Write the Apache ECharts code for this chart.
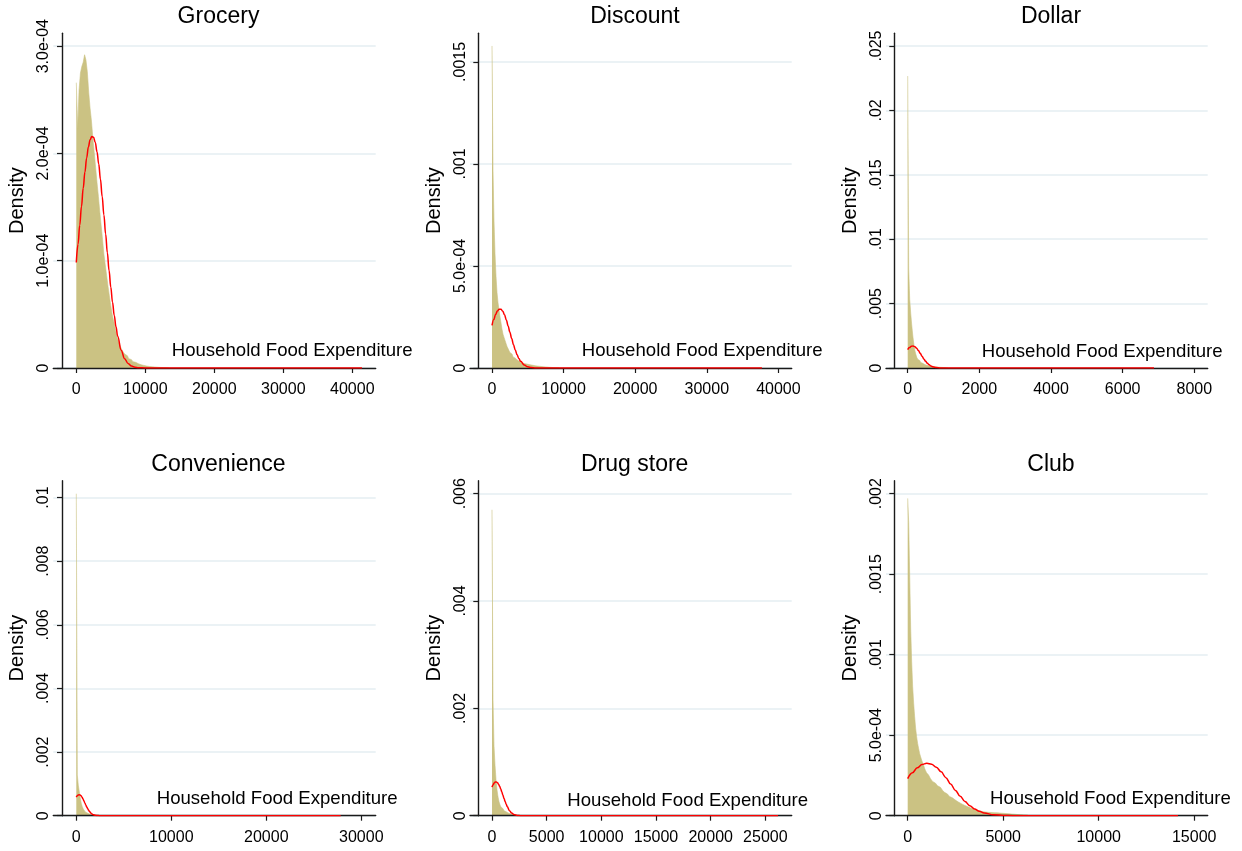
<!DOCTYPE html>
<html><head><meta charset="utf-8">
<script src="https://cdn.jsdelivr.net/npm/echarts@6/dist/echarts.min.js"></script>
<style>html,body{margin:0;padding:0;background:#fff}#c{width:1242px;height:851px}</style>
</head><body><div id="c"></div>
<script>
// ---------------- DATA ----------------
const panelTitles = ['Grocery', 'Discount', 'Dollar', 'Convenience', 'Drug store', 'Club'];
const xAxisTitle = 'Household Food Expenditure';
const yAxisTitle = 'Density';

// histogram bin widths (expenditure units) and bin densities
const groceryBinWidth = 200;
const groceryDensity = [2.66e-4, 2.23e-4, 2.59e-4, 2.75e-4, 2.81e-4, 2.85e-4, 2.92e-4, 2.87e-4, 2.76e-4, 2.57e-4,
  2.42e-4, 2.30e-4, 2.14e-4, 2.01e-4, 1.87e-4, 1.73e-4, 1.60e-4, 1.46e-4, 1.33e-4, 1.20e-4,
  1.06e-4, 0.96e-4, 0.86e-4, 0.76e-4, 0.67e-4, 0.58e-4, 0.50e-4, 0.44e-4, 0.38e-4, 0.32e-4,
  0.27e-4, 0.23e-4, 0.20e-4, 0.17e-4, 0.15e-4, 0.13e-4, 0.115e-4, 0.10e-4, 0.087e-4, 0.078e-4,
  0.068e-4, 0.059e-4, 0.053e-4, 0.047e-4, 0.040e-4, 0.035e-4, 0.030e-4, 0.027e-4, 0.024e-4, 0.021e-4,
  0.018e-4, 0.016e-4, 0.014e-4, 0.012e-4, 0.011e-4, 0.010e-4, 0.009e-4, 0.008e-4, 0.007e-4, 0.006e-4,
  0.005e-4, 0.0045e-4, 0.004e-4, 0.0035e-4, 0.003e-4, 0.0025e-4, 0.002e-4];

const discountBinWidth = 140;
const discountDensity = [1.578e-3, 0.97e-3, 0.72e-3, 0.56e-3, 0.45e-3, 0.37e-3, 0.32e-3, 0.285e-3, 0.25e-3, 0.22e-3,
  0.19e-3, 0.165e-3, 0.15e-3, 0.135e-3, 0.12e-3, 0.105e-3, 0.095e-3, 0.085e-3, 0.075e-3, 0.068e-3,
  0.060e-3, 0.054e-3, 0.049e-3, 0.044e-3, 0.040e-3, 0.036e-3, 0.033e-3, 0.030e-3, 0.028e-3, 0.026e-3,
  0.024e-3, 0.022e-3, 0.021e-3, 0.020e-3, 0.019e-3, 0.018e-3, 0.017e-3, 0.016e-3, 0.015e-3, 0.014e-3,
  0.013e-3, 0.012e-3, 0.011e-3, 0.010e-3, 0.0095e-3, 0.009e-3, 0.0085e-3, 0.008e-3, 0.0075e-3, 0.007e-3,
  0.0065e-3, 0.006e-3, 0.0055e-3, 0.005e-3, 0.0045e-3, 0.004e-3, 0.0035e-3, 0.003e-3, 0.0028e-3, 0.0025e-3,
  0.0022e-3, 0.002e-3, 0.0018e-3, 0.0016e-3, 0.0014e-3, 0.0012e-3, 0.001e-3];

const dollarBinWidth = 28;
const dollarDensity = [0.02267, 0.00769, 0.00533, 0.00424, 0.00334, 0.00256, 0.00192, 0.0014, 0.00109, 0.00083,
  0.00067, 0.00058, 0.00048, 0.00042, 0.00036, 0.00031, 0.00027, 0.00024, 0.00021, 0.00019,
  0.00017, 0.00015, 0.00014, 0.00013, 0.00012, 0.00011, 0.0001, 0.00009, 0.00008, 0.00007,
  0.00006, 0.000055, 0.00005, 0.000045, 0.00004, 0.000035, 0.00003, 0.000025, 0.00002, 0.000015];

const convenienceBinWidth = 105;
const convenienceDensity = [0.01012, 0.00128, 0.00096, 0.00075, 0.00055, 0.00039, 0.00028, 0.00021, 0.00016, 0.00012,
  0.00009, 0.00007, 0.000055, 0.000045, 0.000035, 0.000028, 0.000022, 0.000018, 0.000014, 0.000011,
  0.000009, 0.000007, 0.000005, 0.000004, 0.000003];

const drugBinWidth = 92;
const drugDensity = [0.0057, 0.00217, 0.0013, 0.00094, 0.00067, 0.00048, 0.00035, 0.00026, 0.0002, 0.00016,
  0.00013, 0.00011, 0.00009, 0.000075, 0.000062, 0.000052, 0.000044, 0.000037, 0.000031, 0.000026,
  0.000022, 0.000018, 0.000015, 0.000012, 0.00001, 0.000008, 0.000006, 0.000005, 0.000004, 0.000003];

const clubBinWidth = 52;
const clubDensity = [1.971e-3, 1.82e-3, 1.495e-3, 1.164e-3, 0.957e-3, 0.801e-3, 0.698e-3, 0.615e-3, 0.542e-3, 0.49e-3,
  0.449e-3, 0.418e-3, 0.387e-3, 0.366e-3, 0.346e-3, 0.329e-3, 0.315e-3, 0.294e-3, 0.28e-3, 0.267e-3,
  0.259e-3, 0.253e-3, 0.242e-3, 0.23e-3, 0.22e-3, 0.213e-3, 0.207e-3, 0.202e-3, 0.197e-3, 0.191e-3,
  0.186e-3, 0.181e-3, 0.176e-3, 0.170e-3, 0.165e-3, 0.158e-3, 0.151e-3, 0.145e-3, 0.140e-3, 0.135e-3,
  0.130e-3, 0.125e-3, 0.120e-3, 0.116e-3, 0.111e-3, 0.106e-3, 0.101e-3, 0.097e-3, 0.093e-3, 0.089e-3,
  0.085e-3, 0.081e-3, 0.078e-3, 0.075e-3, 0.071e-3, 0.068e-3, 0.065e-3, 0.062e-3, 0.060e-3, 0.057e-3,
  0.054e-3, 0.052e-3, 0.049e-3, 0.046e-3, 0.044e-3, 0.042e-3, 0.040e-3, 0.038e-3, 0.036e-3, 0.034e-3,
  0.032e-3, 0.030e-3, 0.029e-3, 0.028e-3, 0.026e-3, 0.025e-3, 0.024e-3, 0.023e-3, 0.022e-3, 0.022e-3,
  0.021e-3, 0.021e-3, 0.020e-3, 0.020e-3, 0.019e-3, 0.019e-3, 0.019e-3, 0.018e-3, 0.018e-3, 0.018e-3,
  0.017e-3, 0.017e-3, 0.016e-3, 0.016e-3, 0.015e-3, 0.015e-3, 0.014e-3, 0.014e-3, 0.013e-3, 0.013e-3,
  0.012e-3, 0.012e-3, 0.011e-3, 0.011e-3, 0.010e-3, 0.010e-3, 0.009e-3, 0.009e-3, 0.008e-3, 0.008e-3,
  0.007e-3, 0.007e-3, 0.006e-3, 0.006e-3, 0.005e-3, 0.005e-3, 0.005e-3, 0.004e-3, 0.004e-3, 0.004e-3, 0.003e-3];

// overlaid normal density curves, points [expenditure, density]
const groceryNormal = [[0, 0.983e-4], [250, 1.154e-4], [500, 1.331e-4], [750, 1.506e-4], [1000, 1.675e-4],
  [1250, 1.827e-4], [1500, 1.958e-4], [1750, 2.060e-4], [2000, 2.128e-4], [2250, 2.159e-4],
  [2500, 2.15e-4], [2750, 2.102e-4], [3000, 2.017e-4], [3250, 1.902e-4], [3500, 1.760e-4], [3750, 1.599e-4],
  [4000, 1.427e-4], [4250, 1.25e-4], [4500, 1.075e-4], [4750, 0.908e-4], [5000, 0.753e-4], [5250, 0.613e-4],
  [5500, 0.490e-4], [5750, 0.385e-4], [6000, 0.296e-4], [6500, 0.1665e-4], [7000, 0.0869e-4], [7500, 0.0422e-4],
  [8000, 0.019e-4], [8500, 0.008e-4], [9000, 0.0031e-4], [10000, 0.0004e-4], [41400, 0]];
const discountNormal = [[0, 0.2083e-3], [250, 0.2373e-3], [500, 0.2616e-3], [750, 0.2790e-3], [1000, 0.2881e-3],
  [1250, 0.2878e-3], [1500, 0.2782e-3], [1750, 0.2605e-3], [2000, 0.2356e-3], [2250, 0.2062e-3], [2500, 0.1750e-3],
  [2750, 0.1440e-3], [3000, 0.1140e-3], [3250, 0.0878e-3], [3500, 0.0651e-3], [3750, 0.0467e-3], [4000, 0.0326e-3],
  [4500, 0.01434e-3], [5000, 0.00552e-3], [5500, 0.00186e-3], [6000, 0.00055e-3], [7000, 0.00003e-3], [37700, 0]];
const dollarNormal = [[0, 0.00143], [50, 0.001587], [100, 0.001685], [150, 0.00171], [200, 0.001654], [250, 0.00153],
  [300, 0.001351], [350, 0.001139], [400, 0.000918], [450, 0.000706], [500, 0.000518], [550, 0.000362],
  [600, 0.000244], [650, 0.000155], [700, 0.0000953], [800, 0.000031], [900, 0.0000084], [1000, 0.000002], [6875, 0]];
const convenienceNormal = [[0, 0.000583], [100, 0.000625], [200, 0.000651], [300, 0.00066], [400, 0.000651],
  [500, 0.000625], [600, 0.000583], [700, 0.000529], [800, 0.000468], [900, 0.000403], [1000, 0.000338],
  [1100, 0.000276], [1200, 0.000218], [1300, 0.000168], [1400, 0.000126], [1600, 0.0000651],
  [1800, 0.0000302], [2000, 0.0000126], [2300, 0.0000027], [2600, 0.0000005], [27830, 0]];
const drugNormal = [[0, 0.000533], [100, 0.000577], [200, 0.000609], [300, 0.000627], [400, 0.000629], [500, 0.000616],
  [600, 0.000588], [700, 0.000548], [800, 0.000498], [900, 0.000441], [1000, 0.000382], [1100, 0.000322],
  [1200, 0.000264], [1300, 0.000212], [1400, 0.000166], [1600, 0.0000942],
  [1800, 0.0000484], [2000, 0.0000225], [2300, 0.0000059], [2600, 0.0000012], [26160, 0]];
const clubNormal = [[0, 0.2303e-3], [250, 0.2672e-3], [500, 0.2975e-3], [750, 0.3177e-3], [1000, 0.3255e-3],
  [1250, 0.3198e-3], [1500, 0.3015e-3], [1750, 0.2726e-3], [2000, 0.2365e-3], [2250, 0.1968e-3],
  [2500, 0.1571e-3], [2750, 0.1203e-3], [3000, 0.0883e-3], [3250, 0.0623e-3], [3500, 0.04207e-3],
  [3750, 0.02729e-3], [4000, 0.01696e-3], [4500, 0.0058e-3], [5000, 0.00168e-3], [5500, 0.00041e-3],
  [6000, 0.000085e-3], [14150, 0]];

// tick values and labels
const groceryXTicks = [0, 10000, 20000, 30000, 40000];
const discountXTicks = [0, 10000, 20000, 30000, 40000];
const dollarXTicks = [0, 2000, 4000, 6000, 8000];
const convenienceXTicks = [0, 10000, 20000, 30000];
const drugXTicks = [0, 5000, 10000, 15000, 20000, 25000];
const clubXTicks = [0, 5000, 10000, 15000];

const groceryYTicks = [0, 1e-4, 2e-4, 3e-4];
const groceryYLabels = ['0', '1.0e-04', '2.0e-04', '3.0e-04'];
const discountYTicks = [0, 5e-4, 0.001, 0.0015];
const discountYLabels = ['0', '5.0e-04', '.001', '.0015'];
const dollarYTicks = [0, 0.005, 0.01, 0.015, 0.02, 0.025];
const dollarYLabels = ['0', '.005', '.01', '.015', '.02', '.025'];
const convenienceYTicks = [0, 0.002, 0.004, 0.006, 0.008, 0.01];
const convenienceYLabels = ['0', '.002', '.004', '.006', '.008', '.01'];
const drugYTicks = [0, 0.002, 0.004, 0.006];
const drugYLabels = ['0', '.002', '.004', '.006'];
const clubYTicks = [0, 5e-4, 0.001, 0.0015, 0.002];
const clubYLabels = ['0', '5.0e-04', '.001', '.0015', '.002'];

// ---------------- LAYOUT / STYLE ----------------
const FONT = '"Liberation Sans", Arial, Helvetica, sans-serif';
const BAR = '#cbc283';
const AXIS = '#1a1a1a';
const GRIDC = '#e5eef2';

const panels = [
  {title: panelTitles[0], bw: groceryBinWidth, dens: groceryDensity, normal: groceryNormal, xt: groceryXTicks, yt: groceryYTicks, yl: groceryYLabels,
   xmin: -3333, xmax: 43391, ymax: 3.12e-4, g: [53.3, 375.7, 33.3, 368], yax: 62, tx: 218.5, ty: 17, dx: 17.5, sx: 171.7, sy: 351},
  {title: panelTitles[1], bw: discountBinWidth, dens: discountDensity, normal: discountNormal, xt: discountXTicks, yt: discountYTicks, yl: discountYLabels,
   xmin: -3073, xmax: 41858, ymax: 0.00164, g: [470, 791.7, 33.3, 368], yax: 478.3, tx: 635, ty: 17, dx: 434, sx: 581.7, sy: 351},
  {title: panelTitles[2], bw: dollarBinWidth, dens: dollarDensity, normal: dollarNormal, xt: dollarXTicks, yt: dollarYTicks, yl: dollarYLabels,
   xmin: -606, xmax: 8374, ymax: 0.02599, g: [886, 1207.7, 33.3, 368], yax: 894.3, tx: 1051, ty: 17, dx: 850.5, sx: 981.7, sy: 352},
  {title: panelTitles[3], bw: convenienceBinWidth, dens: convenienceDensity, normal: convenienceNormal, xt: convenienceXTicks, yt: convenienceYTicks, yl: convenienceYLabels,
   xmin: -2421, xmax: 31516, ymax: 0.01053, g: [53.3, 375.7, 480.7, 815.7], yax: 62, tx: 218.5, ty: 464.5, dx: 17.5, sx: 156.7, sy: 799},
  {title: panelTitles[4], bw: drugBinWidth, dens: drugDensity, normal: drugNormal, xt: drugXTicks, yt: drugYTicks, yl: drugYLabels,
   xmin: -2012, xmax: 27410, ymax: 0.006242, g: [470, 791.7, 480.7, 815.7], yax: 478.3, tx: 634.7, ty: 464.5, dx: 434, sx: 567.3, sy: 800.5},
  {title: panelTitles[5], bw: clubBinWidth, dens: clubDensity, normal: clubNormal, xt: clubXTicks, yt: clubYTicks, yl: clubYLabels,
   xmin: -1136, xmax: 15707, ymax: 0.002081, g: [886, 1207.7, 480.7, 815.7], yax: 894.3, tx: 1051, ty: 464.5, dx: 850.5, sx: 990, sy: 799}
];

const grids = [], xAxes = [], yAxes = [], series = [], graphics = [];
panels.forEach((p, i) => {
  const [gl, gr, gt, gb] = p.g;
  grids.push({left: gl, top: gt, width: gr - gl, height: gb - gt, containLabel: false});
  xAxes.push({
    type: 'value', gridIndex: i, min: p.xmin, max: p.xmax, z: 4,
    axisLine: {show: true, onZero: false, lineStyle: {color: AXIS, width: 1.4}},
    axisTick: {show: true, length: 5, customValues: p.xt, lineStyle: {color: AXIS, width: 1.2}},
    axisLabel: {customValues: p.xt, fontSize: 16, color: '#000', margin: 14, fontFamily: FONT, formatter: v => String(Math.round(v))},
    splitLine: {show: false}
  });
  const yt = p.yt, yl = p.yl;
  yAxes.push({
    type: 'value', gridIndex: i, min: 0, max: p.ymax, offset: -(p.yax - gl),
    axisLine: {show: true, onZero: false, lineStyle: {color: AXIS, width: 1.4}},
    axisTick: {show: true, length: 5, customValues: yt, lineStyle: {color: AXIS, width: 1.2}},
    axisLabel: {customValues: yt, rotate: 90, fontSize: 16, color: '#000', margin: 10, fontFamily: FONT,
      formatter: v => { const k = yt.findIndex(t => Math.abs(t - v) < 1e-12); return k >= 0 ? yl[k] : ''; }},
    splitLine: {show: true, lineStyle: {color: GRIDC, width: 1.6}}
  });
  // histogram outline: step line from bin starts, closed at the last bin end
  const pts = p.dens.map((h, k) => [k * p.bw, h]);
  pts.push([p.dens.length * p.bw, 0]);
  series.push({
    type: 'line', xAxisIndex: i, yAxisIndex: i, data: pts, step: 'end', showSymbol: false, silent: true, z: 2,
    lineStyle: {color: BAR, width: 0.6}, areaStyle: {color: BAR, opacity: 1}
  });
  series.push({
    type: 'line', xAxisIndex: i, yAxisIndex: i, data: p.normal, showSymbol: false, smooth: 0.4, smoothMonotone: 'x',
    lineStyle: {color: '#ff0000', width: 1.5}, z: 5, silent: true
  });
  graphics.push({type: 'text', x: p.tx, y: p.ty, style: {text: p.title, font: '23px ' + FONT, fill: '#000', textAlign: 'center', textVerticalAlign: 'middle'}});
  graphics.push({type: 'text', x: p.dx, y: (gt + gb) / 2, rotation: Math.PI / 2,
    style: {text: yAxisTitle, font: '20px ' + FONT, fill: '#000', textAlign: 'center', textVerticalAlign: 'middle'}});
  graphics.push({type: 'text', x: p.sx, y: p.sy, z: 10, style: {text: xAxisTitle, font: '18.6px ' + FONT, fill: '#000', textAlign: 'left', textVerticalAlign: 'middle'}});
});

const chart = echarts.init(document.getElementById('c'), null, {renderer: 'canvas'});
chart.setOption({
  animation: false,
  backgroundColor: '#ffffff',
  grid: grids, xAxis: xAxes, yAxis: yAxes, series: series,
  graphic: graphics
});
</script></body></html>
